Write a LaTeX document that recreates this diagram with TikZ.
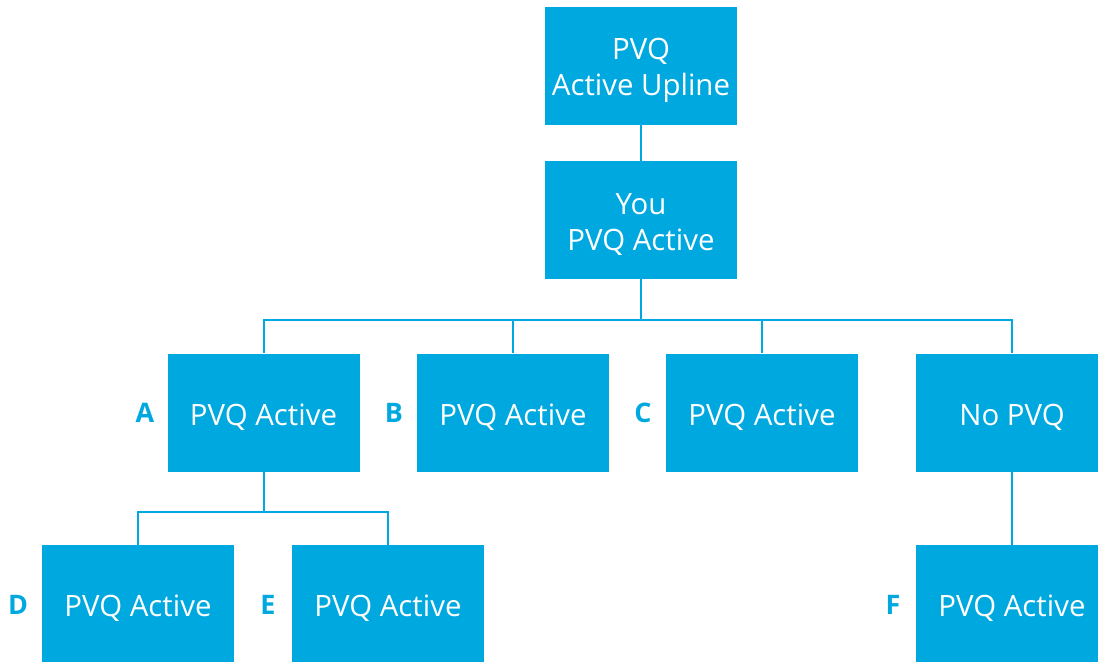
\documentclass[tikz,border=0pt]{standalone}
\usepackage{fontspec}
\setmainfont{Open Sans}
\definecolor{cy}{HTML}{00A8E0}
\newcommand{\dnline}[1]{\raisebox{-4.5bp}[\height][\depth]{#1}}
\begin{document}
\begin{tikzpicture}[x=1bp,y=-1bp,
  box/.style={fill=cy,draw=none,minimum width=192bp,minimum height=118bp,inner sep=0pt,
    text=white,align=center,font=\fontsize{29.5}{36}\selectfont},
  lbl/.style={text=cy,font=\fontsize{27}{30}\selectfont\bfseries,inner sep=0pt},
  conn/.style={draw=cy,line width=2bp}]
\useasboundingbox (0,0) rectangle (1098,662);
\clip (0,0) rectangle (1098,662);
\node[box] (top) at (641,66) {\dnline{PVQ}\\\dnline{Active Upline}};
\node[box] (you) at (641,220) {\dnline{You}\\\dnline{PVQ Active}};
\node[box] (a) at (263.5,412.5) {\dnline{PVQ Active}};
\node[box] (b) at (513,412.5) {\dnline{PVQ Active}};
\node[box] (c) at (762,412.5) {\dnline{PVQ Active}};
\node[box] (n) at (1012,412.5) {\dnline{No PVQ}};
\node[box] (d) at (138,604) {\dnline{PVQ Active}};
\node[box] (e) at (388,604) {\dnline{PVQ Active}};
\node[box] (f) at (1012,604) {\dnline{PVQ Active}};
\node[lbl] (la) at (145,412.5) {A};
\node[lbl] (lb) at (394,412.5) {B};
\node[lbl] (lc) at (643,412.5) {C};
\node[lbl] (ld) at (18,605) {D};
\node[lbl] (le) at (268,605) {E};
\node[lbl] (lf) at (893,605) {F};
\coordinate (j1) at (641,320);
\coordinate (j2) at (263.5,512);
\draw[conn] (top) -- (you);
\draw[conn] (you) -- (j1);
\draw[conn] (j1) -| (a);
\draw[conn] (j1) -| (b);
\draw[conn] (j1) -| (c);
\draw[conn] (j1) -| (n);
\draw[conn] (a) -- (j2);
\draw[conn] (j2) -| (d);
\draw[conn] (j2) -| (e);
\draw[conn] (n) -- (f);
\end{tikzpicture}
\end{document}
